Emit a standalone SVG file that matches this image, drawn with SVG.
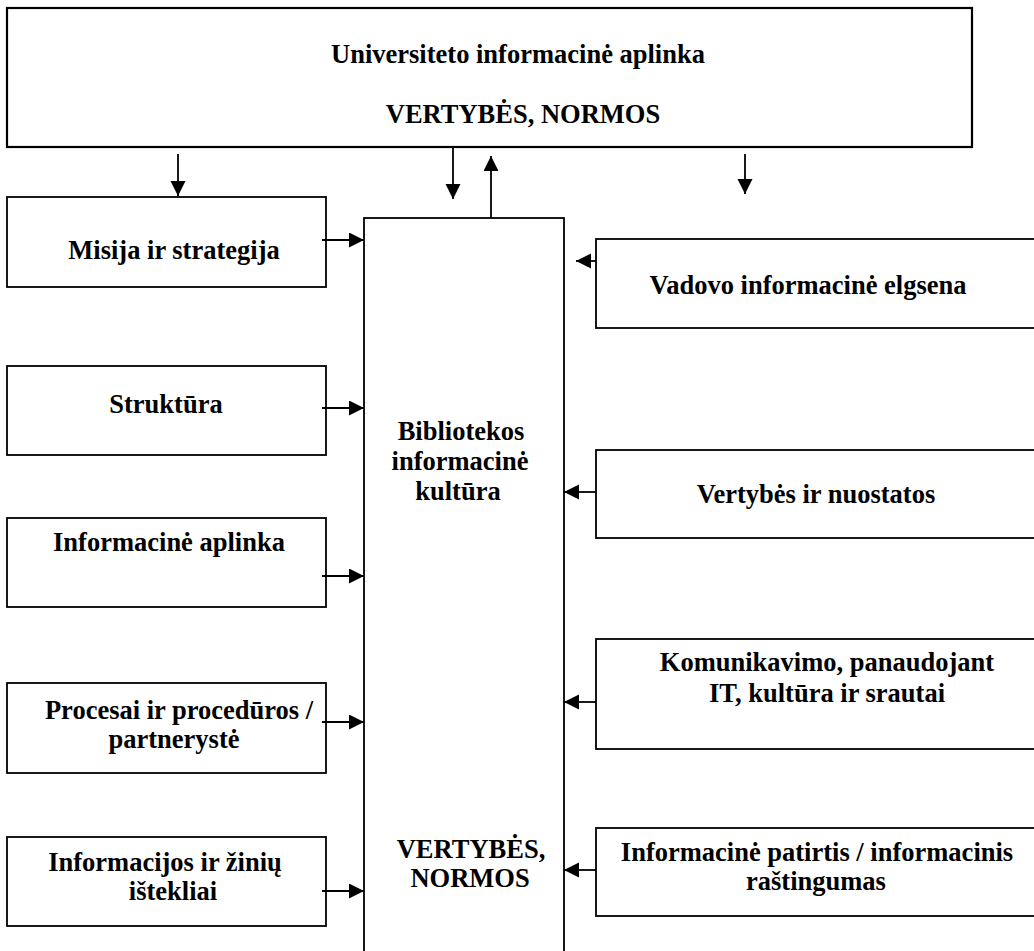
<svg xmlns="http://www.w3.org/2000/svg" width="1034" height="951" viewBox="0 0 1034 951">
<style>
.box{fill:#fff;stroke:#000;stroke-width:1.8}
.t{font-family:"Liberation Serif","Times New Roman",serif;font-weight:bold;font-size:26.5px;fill:#000;text-anchor:middle}
.c{stroke:#000;stroke-width:1.8;fill:none;marker-end:url(#ah)}
</style>
<defs>
<marker id="ah" markerUnits="userSpaceOnUse" markerWidth="16" markerHeight="16" refX="15" refY="7.5" orient="auto">
<path d="M0,0 L15,7.5 L0,15 z" fill="#000"/>
</marker>
</defs>
<rect width="1034" height="951" fill="#fff"/>
<g id="universitetas">
<rect class="box" x="7" y="8" width="965" height="139" style="stroke-width:2.2"/>
<text class="t" x="518" y="63">Universiteto informacinė aplinka</text>
<text class="t" x="523" y="123">VERTYBĖS, NORMOS</text>
</g>
<g id="biblioteka">
<rect class="box" x="364" y="218" width="200" height="745"/>
<text class="t" x="461" y="440">Bibliotekos</text>
<text class="t" x="460" y="470">informacinė</text>
<text class="t" x="458" y="500">kultūra</text>
<text class="t" x="471" y="858">VERTYBĖS,</text>
<text class="t" x="470" y="887">NORMOS</text>
</g>
<g id="misija">
<rect class="box" x="7" y="197" width="319" height="90"/>
<text class="t" x="174" y="259">Misija ir strategija</text>
</g>
<g id="struktura">
<rect class="box" x="7" y="366" width="319" height="89"/>
<text class="t" x="166" y="413">Struktūra</text>
</g>
<g id="info-aplinka">
<rect class="box" x="7" y="518" width="319" height="89"/>
<text class="t" x="169" y="551">Informacinė aplinka</text>
</g>
<g id="procesai">
<rect class="box" x="7" y="683" width="319" height="90"/>
<text class="t" x="179" y="719">Procesai ir procedūros /</text>
<text class="t" x="174" y="748">partnerystė</text>
</g>
<g id="istekliai">
<rect class="box" x="7" y="837" width="319" height="89"/>
<text class="t" x="165" y="871">Informacijos ir žinių</text>
<text class="t" x="173" y="900">ištekliai</text>
</g>
<g id="vadovo">
<rect class="box" x="596" y="239" width="450" height="89"/>
<text class="t" x="808" y="294">Vadovo informacinė elgsena</text>
</g>
<g id="vertybes">
<rect class="box" x="596" y="450" width="450" height="88"/>
<text class="t" x="816" y="503">Vertybės ir nuostatos</text>
</g>
<g id="komunikavimo">
<rect class="box" x="596" y="639" width="450" height="110"/>
<text class="t" x="827" y="671">Komunikavimo, panaudojant</text>
<text class="t" x="827" y="702">IT, kultūra ir srautai</text>
</g>
<g id="patirtis">
<rect class="box" x="596" y="828" width="450" height="88"/>
<text class="t" x="817" y="861">Informacinė patirtis / informacinis</text>
<text class="t" x="816" y="890">raštingumas</text>
</g>
<g id="connectors">
<line class="c" x1="178" y1="154" x2="178" y2="196"/>
<line class="c" x1="453" y1="147" x2="453" y2="199"/>
<line class="c" x1="491" y1="218" x2="491" y2="156"/>
<line class="c" x1="745" y1="154" x2="745" y2="194"/>
<line class="c" x1="322" y1="240" x2="364" y2="240"/>
<line class="c" x1="322" y1="408" x2="364" y2="408"/>
<line class="c" x1="322" y1="576" x2="364" y2="576"/>
<line class="c" x1="322" y1="722" x2="364" y2="722"/>
<line class="c" x1="322" y1="891" x2="364" y2="891"/>
<line class="c" x1="596" y1="261" x2="576" y2="261"/>
<line class="c" x1="596" y1="492" x2="564" y2="492"/>
<line class="c" x1="596" y1="702" x2="564" y2="702"/>
<line class="c" x1="596" y1="870" x2="564" y2="870"/>
</g>
</svg>
